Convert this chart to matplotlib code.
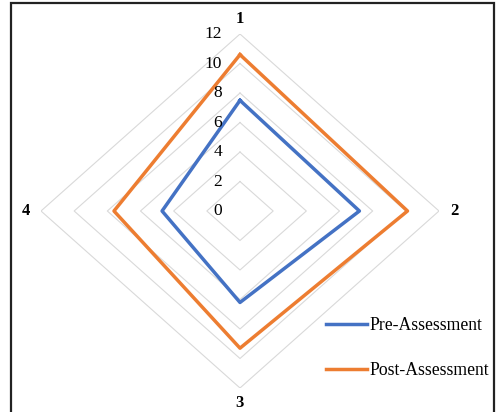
import numpy as np
import matplotlib.pyplot as plt
from matplotlib.patches import Rectangle

# radar chart: pre vs post assessment
categories = ["1", "2", "3", "4"]
pre = [7.5, 7.2, 6.2, 4.7]
post = [10.6, 10.1, 9.3, 7.6]
rings = [0, 2, 4, 6, 8, 10, 12]

plt.rcParams['font.family'] = ['Liberation Serif', 'DejaVu Serif']

W, H = 496, 412
fig = plt.figure(figsize=(W / 100, H / 100), dpi=100)

# outer black frame
fig.patches.append(Rectangle((11 / W, -0.05), (494 - 11) / W, (412 - 3) / H + 0.05,
                             transform=fig.transFigure, fill=False,
                             edgecolor="#222222", linewidth=1.6))

ax = fig.add_axes([41 / W, (412 - 388) / H, 398 / W, 354 / H], projection="polar")
ax.set_aspect('auto')
ax.set_theta_zero_location("N")
ax.set_theta_direction(-1)

angles = np.linspace(0, 2 * np.pi, len(categories), endpoint=False)
closed = np.concatenate([angles, angles[:1]])

# diamond grid
for r in rings[1:]:
    ax.plot(closed, [r] * len(closed), color="#D9D9D9", linewidth=0.8, zorder=1)

ax.plot(closed, pre + pre[:1], color="#4472C4", linewidth=2.5, label="Pre-Assessment", zorder=3)
ax.plot(closed, post + post[:1], color="#ED7D31", linewidth=2.5, label="Post-Assessment", zorder=3)

ax.set_ylim(0, 12)
ax.grid(False)
ax.spines['polar'].set_visible(False)
ax.set_xticks([])
ax.set_yticks([])
ax.patch.set_visible(False)

# ring labels on the top spoke
for r in rings:
    ax.annotate(str(r), xy=(0, r), xytext=(-13, 0), textcoords="offset points",
                ha="right", va="center", fontsize=12.5)

# category labels
for a, c in zip(angles, categories):
    ax.annotate(c, xy=(a, 12), xytext=(11 * np.sin(a), 11 * np.cos(a)),
                textcoords="offset points", ha="center", va="center",
                fontsize=12, fontweight="bold")

leg = ax.legend(loc="lower left", frameon=False, fontsize=12.7,
                handlelength=2.3, handletextpad=0.15, labelspacing=1.6,
                borderpad=0, borderaxespad=0)
leg.set_bbox_to_anchor((326 / W, (412 - 379) / H), transform=fig.transFigure)

fig.savefig("out.png", dpi=100)
